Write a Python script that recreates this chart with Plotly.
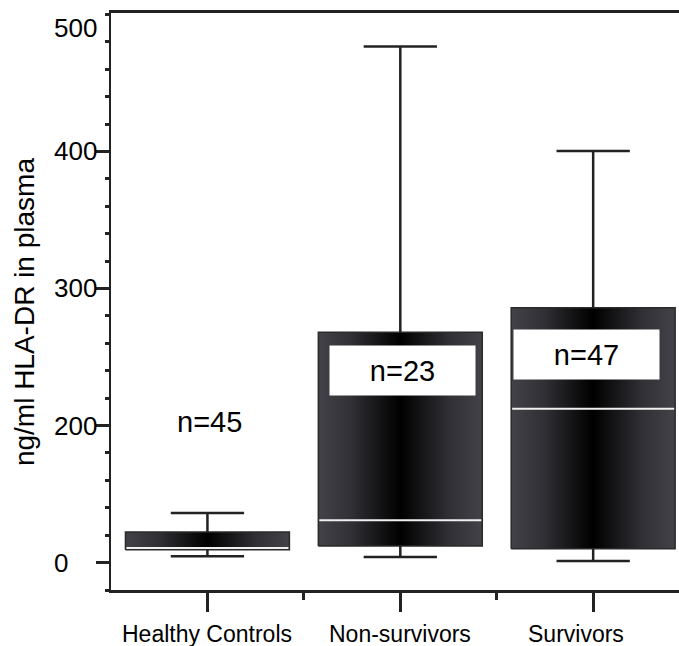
import plotly.graph_objects as go

# ---- data (values in the chart's plotted axis units; the tick printed "0" sits at 100) ----
categories = ["Healthy Controls", "Non-survivors", "Survivors"]
lower_whisker = [104.6, 104.1, 101.1]
q1 = [109.3, 112.1, 110.1]
median = [110.7, 130.9, 212.2]
q3 = [122.4, 268.0, 286.0]
upper_whisker = [136.2, 476.6, 400.4]
n_labels = ["n=45", "n=23", "n=47"]
n_label_y = [202.5, 240.2, 251.8]
n_label_boxed = [False, True, True]
y_tick_vals = [100, 200, 300, 400]
y_tick_text = ["0", "200", "300", "400"]
y_top_label = "500"
y_title = "ng/ml HLA-DR in plasma"

FONT = "Liberation Sans, Arial, Helvetica, sans-serif"
BOX_HALF = 0.425
CAP_HALF = 0.19
xs = list(range(len(categories)))

fig = go.Figure()

grad = [[0.0, "#424248"], [0.2, "#303035"], [0.5, "#000000"], [0.8, "#303035"], [1.0, "#424248"]]

for i, c in enumerate(categories):
    x0, x1 = xs[i] - BOX_HALF, xs[i] + BOX_HALF
    # box body with horizontal gradient
    fig.add_trace(go.Scatter(
        x=[x0, x1, x1, x0, x0], y=[q1[i], q1[i], q3[i], q3[i], q1[i]],
        mode="lines", fill="toself",
        fillgradient=dict(type="horizontal", colorscale=grad),
        line=dict(color="#2a2a2a", width=1.5),
        hoverinfo="skip", showlegend=False))
    # whiskers and caps
    wx = [xs[i], xs[i], None, xs[i] - CAP_HALF, xs[i] + CAP_HALF, None,
          xs[i], xs[i], None, xs[i] - CAP_HALF, xs[i] + CAP_HALF]
    wy = [q3[i], upper_whisker[i], None, upper_whisker[i], upper_whisker[i], None,
          q1[i], lower_whisker[i], None, lower_whisker[i], lower_whisker[i]]
    fig.add_trace(go.Scatter(x=wx, y=wy, mode="lines",
                             line=dict(color="#222222", width=2.5),
                             hoverinfo="skip", showlegend=False))
    # median line (white)
    fig.add_trace(go.Scatter(x=[x0 + 0.005, x1 - 0.005], y=[median[i], median[i]], mode="lines",
                             line=dict(color="#f0f0f0", width=2),
                             hoverinfo="skip", showlegend=False))

annotations = []
shifts = [2, 2, -7]
for i, t in enumerate(n_labels):
    a = dict(x=xs[i], y=n_label_y[i], xref="x", yref="y", text=t, showarrow=False,
             font=dict(family=FONT, size=29, color="#000000"), xshift=shifts[i],
             xanchor="center", yanchor="middle")
    if n_label_boxed[i]:
        a.update(bgcolor="#ffffff", width=145, height=49, borderpad=0)
    annotations.append(a)

# category labels under the x axis
cat_shifts = [0, 0, -17]
for i, c in enumerate(categories):
    annotations.append(dict(x=xs[i], y=-0.0763, xref="x", yref="paper", text=c, showarrow=False,
                            xanchor="center", yanchor="middle", xshift=cat_shifts[i],
                            font=dict(family=FONT, size=23, color="#000000")))

# left-aligned y tick labels
for v, t in zip(y_tick_vals, y_tick_text):
    annotations.append(dict(x=-0.1033, y=v, xref="paper", yref="y", text=t, showarrow=False,
                            xanchor="left", yanchor="middle",
                            font=dict(family=FONT, size=26, color="#000000")))
annotations.append(dict(x=-0.1033, y=490, xref="paper", yref="y", text=y_top_label, showarrow=False,
                        xanchor="left", yanchor="middle",
                        font=dict(family=FONT, size=26, color="#000000")))
annotations.append(dict(x=-0.151, y=0.482, xref="paper", yref="paper", text=y_title, showarrow=False,
                        textangle=-90, xanchor="center", yanchor="middle",
                        font=dict(family=FONT, size=28, color="#000000")))

fig.update_layout(
    width=679, height=646,
    margin=dict(l=111, r=0, t=13, b=56),
    paper_bgcolor="#ffffff", plot_bgcolor="#ffffff",
    showlegend=False,
    annotations=annotations,
    xaxis=dict(range=[-0.5, 2.445], tickmode="array", tickvals=xs, ticktext=["", "", ""],
               showgrid=False, zeroline=False, showline=True, linecolor="#222222", linewidth=2.5,
               mirror=True, ticks="outside", ticklen=19, tickwidth=3, tickcolor="#222222",
               minor=dict(tickmode="array", tickvals=[0.5, 1.5], ticks="outside", ticklen=7,
                          tickwidth=3, tickcolor="#222222")),
    yaxis=dict(range=[80, 501], tickmode="array", tickvals=y_tick_vals, ticktext=y_tick_text,
               showticklabels=False,
               showgrid=False, zeroline=False, showline=True, linecolor="#222222", linewidth=2,
               ticks="outside", ticklen=13, tickwidth=2.5, tickcolor="#222222",
               minor=dict(tickmode="linear", tick0=0, dtick=20, ticks="outside", ticklen=4,
                          tickwidth=3, tickcolor="#222222", showgrid=False)),
)

fig.write_html("out.html", config={"displayModeBar": False},
               post_script="document.body.style.margin='0px';")
